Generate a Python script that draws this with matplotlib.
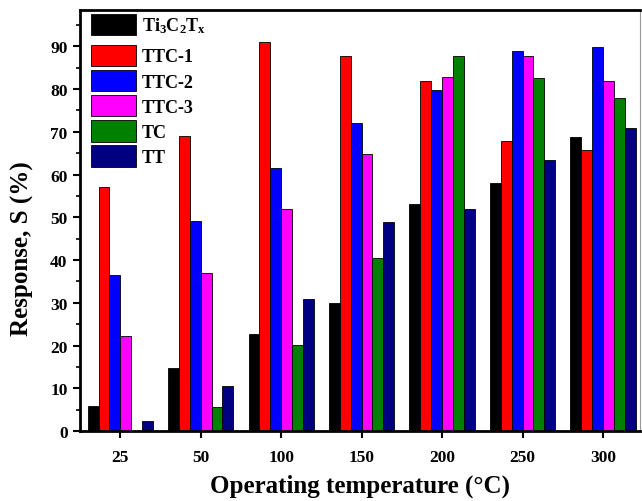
import matplotlib
matplotlib.use("Agg")
import matplotlib.pyplot as plt
import numpy as np
from matplotlib.ticker import MultipleLocator

plt.rcParams['font.family'] = ['Liberation Serif', 'DejaVu Serif']
plt.rcParams['font.weight'] = 'bold'
plt.rcParams['mathtext.fontset'] = 'custom'
plt.rcParams['mathtext.rm'] = 'Liberation Serif:bold'
plt.rcParams['mathtext.it'] = 'Liberation Serif:bold'
plt.rcParams['mathtext.bf'] = 'Liberation Serif:bold'
plt.rcParams['mathtext.default'] = 'regular'

temperatures = ["25", "50", "100", "150", "200", "250", "300"]
series_names = ["Ti$_3$C$_2$T$_x$", "TTC-1", "TTC-2", "TTC-3", "TC", "TT"]
ti3c2tx = [5.9, 14.7, 22.7, 30.0, 53.0, 58.0, 68.9]
ttc1 = [57.0, 69.0, 90.9, 87.8, 81.8, 67.8, 65.8]
ttc2 = [36.4, 49.1, 61.5, 72.0, 79.8, 88.9, 89.8]
ttc3 = [22.2, 36.9, 52.0, 64.8, 82.9, 87.8, 81.8]
tc = [0.0, 5.7, 20.2, 40.5, 87.8, 82.5, 77.8]
tt = [2.3, 10.5, 31.0, 49.0, 51.9, 63.5, 70.9]
colors = ["#000000", "#FF0000", "#0000FF", "#FF00FF", "#008000", "#000080"]

data = [ti3c2tx, ttc1, ttc2, ttc3, tc, tt]

fig = plt.figure(figsize=(6.42, 5.02), dpi=100)
ax = fig.add_axes([80/642, 70/502, 560/642, 421/502])

x = np.arange(len(temperatures))
w = 0.135
bars = []
for i, (vals, name, c) in enumerate(zip(data, series_names, colors)):
    b = ax.bar(x + (i - 2.5) * w, vals, width=w, color=c, edgecolor='black',
               linewidth=0.6, label=name)
    bars.append(b)

ax.set_xlim(-0.5, 6.46)
ax.set_ylim(0, 98.5)
ax.set_xticks(x)
ax.set_xticklabels(temperatures)
ax.yaxis.set_major_locator(MultipleLocator(10))
ax.yaxis.set_minor_locator(MultipleLocator(5))
ax.set_yticks(np.arange(0, 91, 10))
ax.tick_params(axis='both', which='major', direction='out', length=5, width=1.5,
               labelsize=12.5, pad=4)
ax.tick_params(axis='x', which='major', pad=8)
ax.tick_params(axis='y', which='minor', direction='out', length=3, width=1.2)
for lab in ax.get_xticklabels() + ax.get_yticklabels():
    lab.set_fontweight('bold')

for s in ['left', 'bottom', 'top']:
    ax.spines[s].set_linewidth(2)
ax.spines['right'].set_linewidth(0.8)
ax.spines['right'].set_color('#999999')

ax.set_xlabel("Operating temperature (°C)", fontsize=18, fontweight='bold', labelpad=6)
ax.set_ylabel("Response, S (%)", fontsize=18, fontweight='bold')
ax.yaxis.set_label_coords(-0.082, 0.435)

leg_kw = dict(loc='upper left', frameon=False, fontsize=13, handlelength=2.5,
              handleheight=1.48, handletextpad=0.33, labelspacing=0.18,
              borderpad=0.2, borderaxespad=0.0)
leg1 = ax.legend([bars[0]], [series_names[0]], bbox_to_anchor=(0.013, 1.0), **leg_kw)
for t in leg1.get_texts():
    t.set_fontweight('bold')
ax.add_artist(leg1)
leg2 = ax.legend(bars[1:], series_names[1:], bbox_to_anchor=(0.013, 1.0 - 31/421), **leg_kw)
for t in leg2.get_texts():
    t.set_fontweight('bold')

fig.savefig("out.png", dpi=100)
